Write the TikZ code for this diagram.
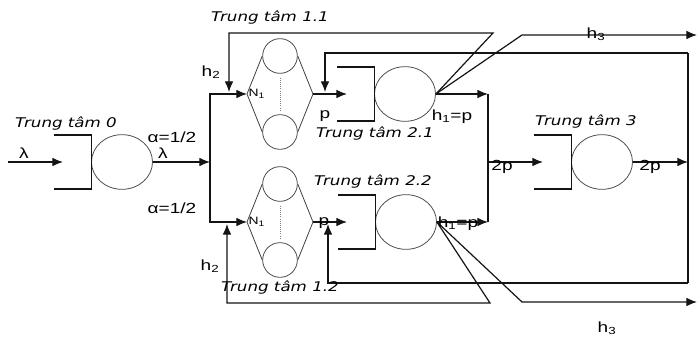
\documentclass[tikz,border=0pt]{standalone}
\usepackage{fontspec}
\setmainfont{Liberation Sans}[FakeStretch=1.3]
\newfontfamily\ttfont{DejaVu Sans}[FakeStretch=1.25]
\usepackage{tikz}
\usetikzlibrary{calc,positioning,arrows.meta,shapes.geometric}
\definecolor{lnk}{RGB}{20,20,20}
\tikzset{
  srv/.style={ellipse,draw=black!70,line width=0.6pt,minimum width=45.75pt,
              minimum height=41pt,inner sep=0pt},
  pill/.style={circle,draw=black!70,line width=0.6pt,minimum size=26pt,inner sep=0pt},
  arr/.style={-{Latex[length=8pt,width=6.5pt]},line width=0.9pt,lnk}
}

\begin{document}
\begin{tikzpicture}[x=0.75pt,y=-0.75pt,
  qline/.style={line width=0.9pt,lnk},
  sline/.style={line width=0.6pt,black!75},
  ttl/.style={font=\ttfont\itshape\fontsize{10}{12}\selectfont,inner sep=0pt},
  lbl/.style={font=\fontsize{11}{13}\selectfont,inner sep=0pt}]
  \useasboundingbox (0,0) rectangle (699,341);
  % single-server stations and their open queues
  \node[srv] (c0) at (122,162) {};
  \node[srv] (c21) at (405,94) {};
  \node[srv] (c22) at (406,222) {};
  \node[srv] (c3) at (602,162) {};
  \draw[qline] ($(c0.west)+(-37,-27)$) -- ++(37,0) -- ++(0,54) -- ++(-37,0);
  \draw[qline] ($(c21.west)+(-37,-27)$) -- ++(37,0) -- ++(0,54) -- ++(-37,0);
  \draw[qline] ($(c22.west)+(-37,-27)$) -- ++(37,0) -- ++(0,54) -- ++(-37,0);
  \draw[qline] ($(c3.west)+(-37,-27)$) -- ++(37,0) -- ++(0,54) -- ++(-37,0);
  % multi-server stations
  \node[pill] (c11t) at (280,56) {};
  \node[pill] (c11b) at (280,132) {};
  \coordinate (c11l) at (247,94);
  \coordinate (c11r) at (313,94);
  \draw[sline] (c11t.west) -- (c11l) -- (c11b.west) (c11t.east) -- (c11r) -- (c11b.east);
  \draw[sline,black!50,densely dotted] ([yshift=-3pt]c11t.south) -- ([yshift=3pt]c11b.north);
  \node[pill] (c12t) at (280,184) {};
  \node[pill] (c12b) at (280,260) {};
  \coordinate (c12l) at (247,222);
  \coordinate (c12r) at (313,222);
  \draw[sline] (c12t.west) -- (c12l) -- (c12b.west) (c12t.east) -- (c12r) -- (c12b.east);
  \draw[sline,black!50,densely dotted] ([yshift=-3pt]c12t.south) -- ([yshift=3pt]c12b.north);
  % junction points
  \coordinate (in0) at (8,162);
  \coordinate (q0) at (63,162);
  \coordinate (j0) at (210,162);
  \coordinate (q21) at (347,94);
  \coordinate (q22) at (347,222);
  \coordinate (m1) at (488,94);
  \coordinate (m2) at (488,222);
  \coordinate (m0) at (488,162);
  \coordinate (q3) at (543,162);
  \coordinate (r0) at (688,162);
  \coordinate (r1) at (688,53);
  \coordinate (r2) at (688,283);
  \coordinate (fbu) at (325,92);
  \coordinate (fbl) at (328,224);
  \coordinate (k1) at (493,33);
  \coordinate (k2) at (522,35);
  \coordinate (k3) at (490,303);
  \coordinate (k4) at (522,302);
  \coordinate (o1) at (697,35);
  \coordinate (o2) at (697,302);
  \coordinate (ret1) at (229,92);
  \coordinate (ret2) at (227,224);
  % flows
  \draw[arr] (in0) -- (q0);
  \draw[arr] (c0) -- (j0);
  \draw[arr] (j0) |- (c11l);
  \draw[arr] (j0) |- (c12l);
  \draw[arr] (c11r) -- (q21);
  \draw[arr] (c12r) -- (q22);
  \draw[arr] (c21) -- (m1);
  \draw[arr] (c22) -- (m2);
  \draw[qline] (m1) -- (m2);
  \draw[arr] (m0) -- (q3);
  \draw[arr] (c3) -- (r0);
  \draw[qline] (r1) -- (r2);
  \draw[arr] (r1) -| (fbu);
  \draw[arr] (r2) -| (fbl);
  \draw[arr] (c21.east) -- (k1) -| (ret1);
  \draw[arr] (c21.east) -- (k2) -- (o1);
  \draw[arr] (c22.east) -- (k3) -| (ret2);
  \draw[arr] (c22.east) -- (k4) -- (o2);
  % labels
  \node[ttl] (t0) at (66,124) {Trung tâm 0};
  \node[ttl] (t11) at (270,18) {Trung tâm 1.1};
  \node[ttl] (t12) at (280,288) {Trung tâm 1.2};
  \node[ttl] (t21) at (375,134) {Trung tâm 2.1};
  \node[ttl] (t22) at (373,182) {Trung tâm 2.2};
  \node[ttl] (t3) at (586,122) {Trung tâm 3};
  \node[lbl] (lam0) at (24,153) {λ};
  \node[lbl] (lam1) at (163,153) {λ};
  \node[lbl] (al1) at (172,137) {α=1/2};
  \node[lbl] (al2) at (172,208) {α=1/2};
  \node[lbl] (h2a) at (211,72) {h\textsubscript{2}};
  \node[lbl] (h2b) at (210,266) {h\textsubscript{2}};
  \node[lbl,font=\fontsize{8}{9}\selectfont,right=1pt of c11l] (n11) {N\textsubscript{1}};
  \node[lbl,font=\fontsize{8}{9}\selectfont,right=1pt of c12l] (n12) {N\textsubscript{1}};
  \node[lbl] (p1) at (325,116) {p};
  \node[lbl] (p2) at (324,223) {p};
  \node[lbl] (h1a) at (452,117) {h\textsubscript{1}=p};
  \node[lbl] (h1b) at (458,224) {h\textsubscript{1}=p};
  \node[lbl] (s1) at (502,167) {2p};
  \node[lbl] (s2) at (650,167) {2p};
  \node[lbl] (h3a) at (596,34) {h\textsubscript{3}};
  \node[lbl] (h3b) at (607,328) {h\textsubscript{3}};
\end{tikzpicture}
\end{document}
